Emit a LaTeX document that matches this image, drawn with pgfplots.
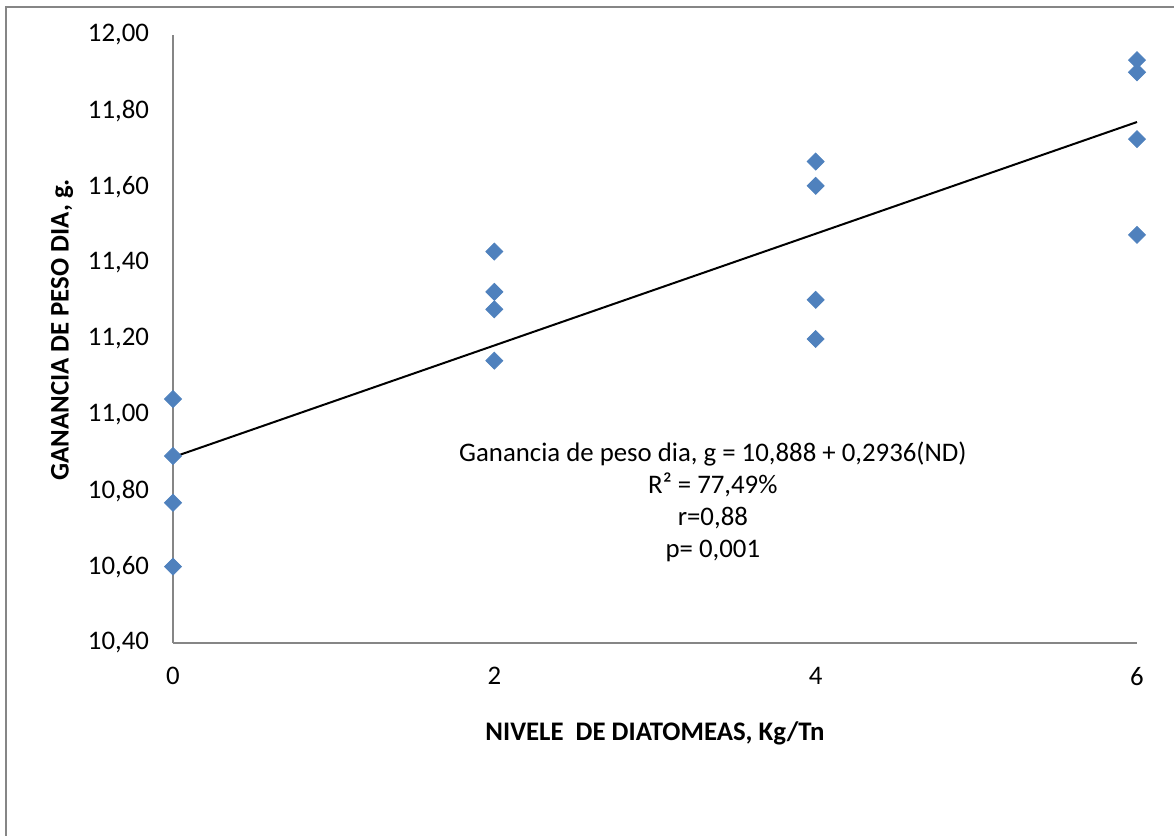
\documentclass[border=0pt]{standalone}
\usepackage{pgfplots}
\pgfplotsset{compat=1.18}
\usepackage{fontspec}
\setmainfont{Carlito}
\definecolor{excelblue}{RGB}{79,129,189}
\definecolor{axisgray}{RGB}{134,134,134}
\begin{document}
\begin{tikzpicture}
\path[use as bounding box] (0,0) rectangle (587pt,418pt);
\draw[axisgray,line width=0.9pt] (3pt,-2pt) -- (3pt,414.5pt) -- (590pt,414.5pt);
\begin{axis}[
  at={(86.5pt,96.5pt)}, anchor=origin,
  scale only axis, width=482pt, height=304pt,
  xmin=0, xmax=6, ymin=10.4, ymax=12.0,
  axis x line=bottom, axis y line=left,
  axis line style={axisgray, line width=0.8pt, -},
  xtick={0,2,4,6}, ytick={10.4,10.6,...,12.01},
  major tick length=0pt,
  /pgf/number format/assume math mode=true,
  yticklabel style={/pgf/number format/fixed, /pgf/number format/fixed zerofill, /pgf/number format/precision=2, /pgf/number format/use comma, xshift=-8.5pt},
  xticklabel style={/pgf/number format/fixed, /pgf/number format/precision=0, yshift=-8.5pt},
  tick label style={font=\fontsize{13.4}{15}\selectfont, black},
  xlabel={\textbf{NIVELE\ \ DE DIATOMEAS, Kg/Tn}},
  ylabel={\textbf{GANANCIA DE PESO DIA, g.}},
  label style={font=\fontsize{13.4}{15}\selectfont},
  xlabel style={at={(axis description cs:0.5,0)}, anchor=center, yshift=-45pt},
  ylabel style={at={(axis description cs:-0.115,0.515)}, anchor=center},
  clip=false,
]
\addplot[only marks, mark=square*, mark size=3pt, mark options={rotate=45, fill=excelblue, draw=excelblue}]
coordinates {
 (0,11.042) (0,10.892) (0,10.769) (0,10.601)
 (2,11.430) (2,11.324) (2,11.278) (2,11.143)
 (4,11.667) (4,11.603) (4,11.303) (4,11.200)
 (6,11.934) (6,11.902) (6,11.726) (6,11.474)
};
\addplot[black, line width=1pt] coordinates {(0,10.889) (6,11.771)};
\node[align=center, font=\fontsize{13.4}{16}\selectfont, anchor=center] at (axis cs:3.36,10.772)
 {Ganancia de peso dia, g = 10,888 + 0,2936(ND)\\R² = 77,49\%\\r=0,88\\p= 0,001};
\end{axis}
\end{tikzpicture}
\end{document}
